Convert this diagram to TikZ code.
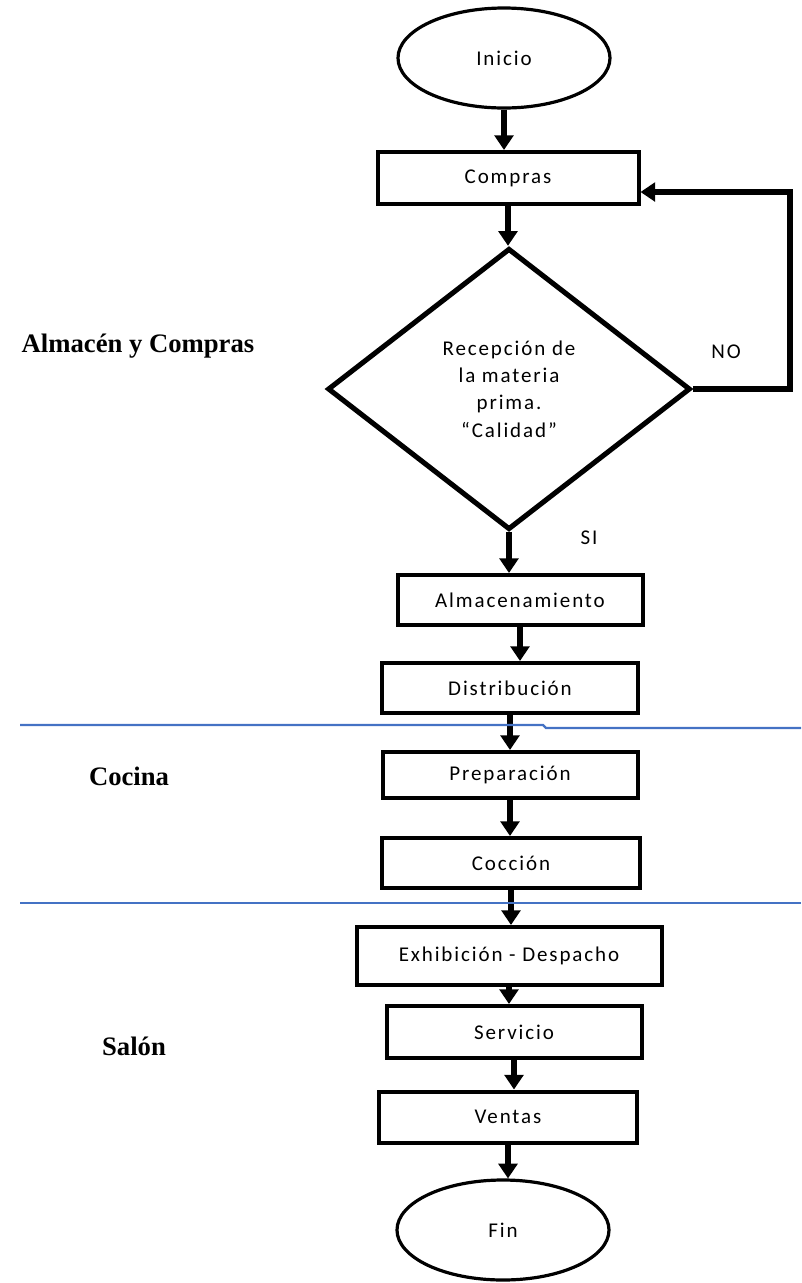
\documentclass[tikz,border=0pt]{standalone}
\usepackage{fontspec}
\usepackage{xcolor}
\usetikzlibrary{arrows.meta,shapes.geometric}
\newfontfamily\flowfont[LetterSpace=9]{Carlito}
\newfontfamily\areafont{Liberation Serif}
\definecolor{laneBlue}{RGB}{68,114,196}
\tikzset{
  proc/.style={draw, line width=3pt, inner sep=0pt,
    font=\flowfont\fontsize{15.75}{20.5}\selectfont},
  term/.style={draw, ellipse, line width=2.4pt, inner sep=0pt,
    minimum width=159pt, minimum height=75pt,
    font=\flowfont\fontsize{15.75}{20.5}\selectfont},
  decide/.style={draw, diamond, line width=3.8pt, inner sep=0pt, align=center,
    minimum width=272pt, minimum height=211pt,
    font=\flowfont\fontsize{15.75}{20.5}\selectfont},
  tag/.style={font=\flowfont\fontsize{15.75}{20.5}\selectfont},
  area/.style={anchor=base, font=\areafont\bfseries\fontsize{20}{24}\selectfont},
  flow/.style={line width=4pt, -{Triangle[width=14pt,length=11pt]}},
  lane/.style={laneBlue, line width=1.6pt}
}
\begin{document}
\begin{tikzpicture}[x=0.75pt,y=-0.75pt]
  \useasboundingbox (0,0) rectangle (801,1283);
  % terminales y decision
  \node[term] (inicio) at (504,58) {Inicio};
  \node[term] (fin) at (503,1230) {Fin};
  \node[decide] (recep) at (509,389) {Recepción de\\la materia\\prima.\\“Calidad”};
  % pasos del proceso: nombre/x/y/ancho/alto (pt)/texto
  \foreach \n/\x/\y/\w/\h/\t in {
      compras/508/178/195.75/39/Compras,
      almac/520/600/183.75/37.5/Almacenamiento,
      distrib/510/688/192/37.5/Distribución,
      prep/510/775/191.25/34.5/Preparación,
      coccion/511/863/193.5/37.5/Cocción,
      exhib/509/956/228.75/43.5/{Exhibición - Despacho},
      servicio/514/1032/191.25/39/Servicio,
      ventas/508/1117/193.5/38.25/Ventas}{
    \node[proc, minimum width=\w pt, minimum height=\h pt] (\n) at (\x,\y) {\t};
  }
  % flechas
  \foreach \a/\b in {inicio/compras,compras/recep,recep/almac,almac/distrib,
      distrib/prep,prep/coccion,coccion/exhib,exhib/servicio,servicio/ventas,ventas/fin}
    \draw[flow] (\a.south) -- (\a.south |- \b.north);
  \coordinate (vuelta) at (790,192);
  \draw[flow] (recep.east) -| (vuelta) -- (compras.east |- vuelta);
  \node[tag] (no) at (726,352) {NO};
  \node[tag] (si) at (589,538) {SI};
  % areas
  \draw[lane] (20,725) -- (543,725) -- (546,728) -- (801,728);
  \draw[lane] (20,903) -- (801,903);
  \node[area] (almacen) at (138,352) {Almacén y Compras};
  \node[area] (cocina) at (129,785) {Cocina};
  \node[area] (salon) at (134,1055) {Salón};
\end{tikzpicture}
\end{document}
